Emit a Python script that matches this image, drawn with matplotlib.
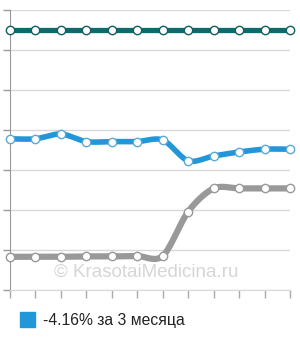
import numpy as np
import matplotlib
matplotlib.use("Agg")
import matplotlib.pyplot as plt

plt.rcParams['font.family'] = ['Liberation Sans', 'DejaVu Sans']

# data
months = list(range(12))
teal_vals = [6.5] * 12
blue_vals = [3.78, 3.78, 3.9, 3.71, 3.71, 3.71, 3.75, 3.23, 3.35, 3.45, 3.52, 3.52]
gray_vals = [0.83, 0.83, 0.83, 0.84, 0.84, 0.85, 0.85, 1.96, 2.54, 2.54, 2.54, 2.54]
legend_label = "-4.16% за 3 месяца"
watermark = "© KrasotaiMedicina.ru"


def smooth(xs, ys, tension=0.4, n=20):
    # chart.js style bezier curve through the points
    xs = np.asarray(xs, float)
    ys = np.asarray(ys, float)
    out_x, out_y = [], []
    k = tension / 2
    for i in range(len(xs) - 1):
        x0, y0 = (xs[i - 1], ys[i - 1]) if i > 0 else (xs[i], ys[i])
        x3, y3 = (xs[i + 2], ys[i + 2]) if i + 2 < len(xs) else (xs[i + 1], ys[i + 1])
        p1 = np.array([xs[i], ys[i]])
        p2 = np.array([xs[i + 1], ys[i + 1]])
        c1 = p1 + k * (p2 - np.array([x0, y0]))
        c2 = p2 - k * (np.array([x3, y3]) - p1)
        t = np.linspace(0, 1, n)[:, None]
        seg = (1 - t) ** 3 * p1 + 3 * (1 - t) ** 2 * t * c1 + 3 * (1 - t) * t ** 2 * c2 + t ** 3 * p2
        out_x.extend(seg[:, 0])
        out_y.extend(seg[:, 1])
    return out_x, out_y


fig = plt.figure(figsize=(3, 3.4), dpi=100)
ax = fig.add_axes([10 / 300, 50 / 340, 280 / 300, 280 / 340])
ax.set_xlim(0, 11)
ax.set_ylim(0, 7)

series = [
    (gray_vals, "#999999", "#999999", 4.5),
    (blue_vals, "#2196d9", "#5aa9d6", 4),
    (teal_vals, "#0f6b6b", "#0f5f5f", 3.8),
]
for vals, col, edge, lw in series:
    sx, sy = smooth(months, vals, tension=0.3)
    ax.plot(sx, sy, color=col, lw=lw, solid_capstyle="round", zorder=3, clip_on=False)
    ax.plot(months, vals, "o", ms=6, mfc="white", mec=edge, mew=1, zorder=4, clip_on=False)

ax.set_yticks(range(8))
ax.set_xticks(months)
ax.set_yticklabels([])
ax.set_xticklabels([])
ax.grid(axis="y", color="#d9d9d9", lw=1)
ax.set_axisbelow(True)
ax.tick_params(axis="y", length=5, color="#999999", width=1)
ax.tick_params(axis="x", length=6, color="#aaaaaa", width=1)
for s in ["top", "right"]:
    ax.spines[s].set_visible(False)
ax.spines["left"].set_color("#999999")
ax.spines["bottom"].set_color("#d9d9d9")

ax.text(5.35, 0.45, watermark, fontsize=13.5, color="#d6d6d6", ha="center", va="center", zorder=2)

fig.patches.append(plt.Rectangle((20 / 300, 13 / 340), 15 / 300, 15 / 340,
                                 transform=fig.transFigure, color="#2196d9", figure=fig))
fig.text(43 / 300, 20 / 340, legend_label, fontsize=11.3, color="#222222", va="center")

fig.savefig("out.png", dpi=100)
